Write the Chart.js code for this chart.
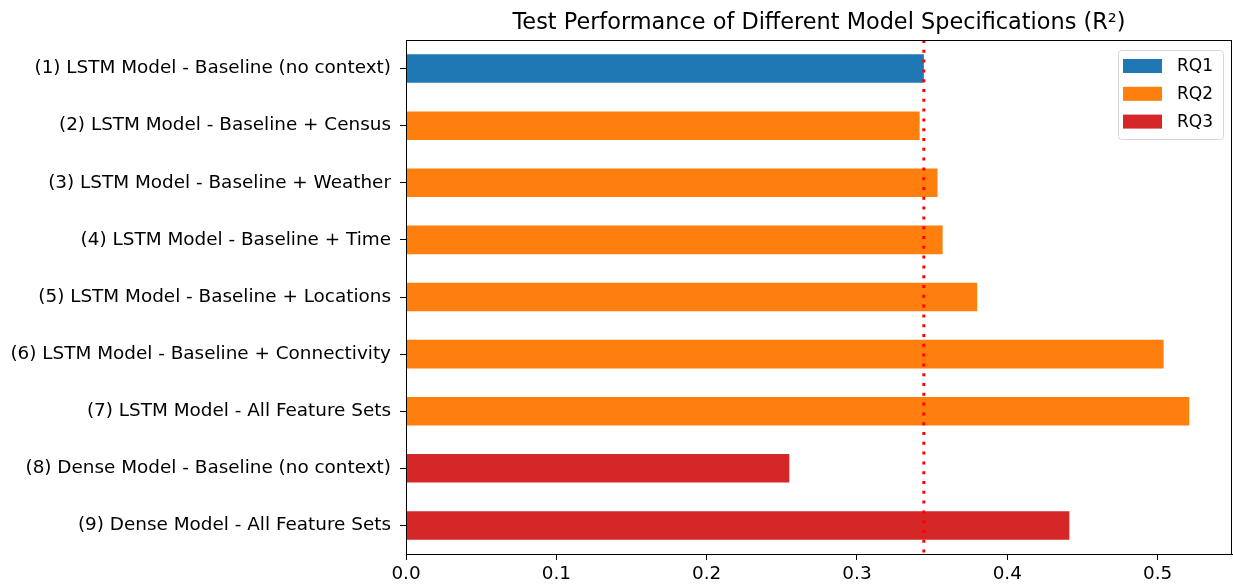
<!DOCTYPE html>
<html>
<head>
<meta charset="utf-8">
<script src="https://cdn.jsdelivr.net/npm/chart.js@4.4.0/dist/chart.umd.min.js"></script>
<style>
  body { margin: 0; background: #fff; }
  canvas { display: block; }
</style>
</head>
<body>
<canvas id="perfChart" width="1233" height="584"></canvas>
<script>
// model specs, top to bottom
const models = [
  '(1) LSTM Model - Baseline (no context)',
  '(2) LSTM Model - Baseline + Census',
  '(3) LSTM Model - Baseline + Weather',
  '(4) LSTM Model - Baseline + Time',
  '(5) LSTM Model - Baseline + Locations',
  '(6) LSTM Model - Baseline + Connectivity',
  '(7) LSTM Model - All Feature Sets',
  '(8) Dense Model - Baseline (no context)',
  '(9) Dense Model - All Feature Sets'
];
const r2Scores = [0.3445, 0.3417, 0.3536, 0.357, 0.380, 0.504, 0.5211, 0.255, 0.4413];
const researchQ = ['RQ1', 'RQ2', 'RQ2', 'RQ2', 'RQ2', 'RQ2', 'RQ2', 'RQ3', 'RQ3'];
const groupNames = ['RQ1', 'RQ2', 'RQ3'];
const groupColors = ['#1f77b4', '#ff7f0e', '#d62728'];
const baselineR2 = 0.3445;
const xTicks = [0.0, 0.1, 0.2, 0.3, 0.4, 0.5];
const xMax = 0.5495;
const chartTitle = 'Test Performance of Different Model Specifications (R\u00b2)';

const FONT = '"DejaVu Sans", sans-serif';

const datasets = groupNames.map((g, k) => ({
  label: g,
  data: r2Scores.map((v, i) => researchQ[i] === g ? v : null),
  backgroundColor: groupColors[k],
  borderWidth: 0,
  barPercentage: 0.5,
  categoryPercentage: 1.0,
  grouped: false
}));

// title over plot area, frame, dotted baseline, legend box
const extras = {
  id: 'extras',
  afterDatasetsDraw(chart) {
    const ctx = chart.ctx;
    const area = chart.chartArea;
    const x = chart.scales.x.getPixelForValue(baselineR2);
    ctx.save();
    ctx.strokeStyle = '#ff0000';
    ctx.lineWidth = 3;
    ctx.setLineDash([3, 6.8]);
    ctx.beginPath();
    ctx.moveTo(x, area.top);
    ctx.lineTo(x, area.bottom);
    ctx.stroke();
    ctx.restore();
  },
  afterDraw(chart) {
    const ctx = chart.ctx;
    const area = chart.chartArea;
    ctx.save();
    ctx.strokeStyle = '#000';
    ctx.lineWidth = 1;
    ctx.strokeRect(Math.round(area.left) + 0.5, Math.round(area.top) + 0.5,
      Math.round(area.right - area.left) - 1, Math.round(area.bottom - area.top));

    // title, centred on the axes like matplotlib
    ctx.fillStyle = '#000';
    ctx.font = '22.4px ' + FONT;
    ctx.textAlign = 'center';
    ctx.textBaseline = 'alphabetic';
    ctx.fillText(chartTitle, (area.left + area.right) / 2, 28.5);

    // legend
    const bx = 1118, by = 50, bw = 105, bh = 89;
    ctx.fillStyle = 'rgba(255,255,255,0.8)';
    ctx.strokeStyle = '#d6d6d6';
    ctx.beginPath();
    ctx.roundRect(bx + 0.5, by + 0.5, bw, bh, 3);
    ctx.fill();
    ctx.stroke();
    ctx.font = '17px ' + FONT;
    ctx.textAlign = 'left';
    ctx.textBaseline = 'middle';
    groupNames.forEach((g, k) => {
      const cy = 66 + k * 27.8;
      ctx.fillStyle = groupColors[k];
      ctx.fillRect(1123, cy - 7, 39, 14);
      ctx.fillStyle = '#000';
      ctx.fillText(g, 1177, cy + 1);
    });
    ctx.restore();
  }
};

new Chart(document.getElementById('perfChart'), {
  type: 'bar',
  data: { labels: models, datasets: datasets },
  options: {
    indexAxis: 'y',
    responsive: false,
    animation: false,
    layout: { padding: { top: 40, right: 1, bottom: 0, left: 0 } },
    plugins: {
      legend: { display: false },
      tooltip: { enabled: false },
      title: { display: false }
    },
    scales: {
      y: {
        type: 'category',
        afterFit(scale) { scale.width = 406; },
        grid: { offset: false, drawOnChartArea: false, drawTicks: true, tickLength: 6, color: '#000' },
        border: { display: true, color: '#000' },
        ticks: { color: '#000', padding: 9, font: { family: FONT, size: 18.4 } }
      },
      x: {
        type: 'linear',
        min: 0,
        max: xMax,
        afterFit(scale) { scale.height = 30; },
        afterBuildTicks(scale) { scale.ticks = xTicks.map(v => ({ value: v })); },
        grid: { drawOnChartArea: false, drawTicks: true, tickLength: 6, color: '#000' },
        border: { display: true, color: '#000' },
        ticks: {
          color: '#000',
          padding: 3,
          font: { family: FONT, size: 18.4 },
          callback: v => Number(v).toFixed(1)
        }
      }
    }
  },
  plugins: [extras]
});
</script>
</body>
</html>
